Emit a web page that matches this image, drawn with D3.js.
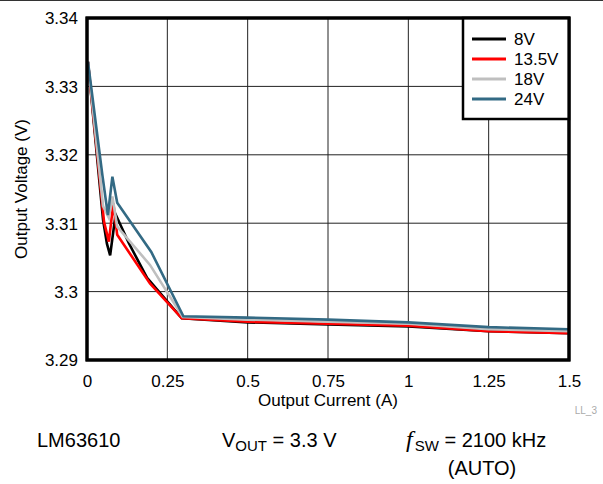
<!DOCTYPE html>
<html><head><meta charset="utf-8">
<script src="https://cdn.jsdelivr.net/npm/d3@7"></script>
<style>
body{margin:0;background:#fff;}
svg{display:block;font-family:"Liberation Sans",Arial,sans-serif;}
</style></head>
<body>
<svg id="chart" width="603" height="484"></svg>
<script>
// ---- data ----
const seriesNames = ["8V", "13.5V", "18V", "24V"];
const seriesColors = ["#000000", "#ff0000", "#bfbfbf", "#336a84"];

const current8V   = [0.003, 0.05, 0.062, 0.072, 0.089, 0.13, 0.187, 0.295, 0.5, 0.75, 1.0, 1.25, 1.5];
const vout8V      = [3.3336, 3.3105, 3.3070, 3.3053, 3.3113, 3.3071, 3.3020, 3.2961, 3.2955, 3.2952, 3.2949, 3.2942, 3.2939];

const current13V5 = [0.003, 0.053, 0.068, 0.082, 0.094, 0.196, 0.295, 0.5, 0.75, 1.0, 1.25, 1.5];
const vout13V5    = [3.3336, 3.3102, 3.3073, 3.3129, 3.3083, 3.3012, 3.2961, 3.2956, 3.2953, 3.2950, 3.2942, 3.2939];

const current18V  = [0.003, 0.05, 0.068, 0.079, 0.094, 0.196, 0.298, 0.5, 0.75, 1.0, 1.25, 1.5];
const vout18V     = [3.3336, 3.3125, 3.3108, 3.3139, 3.3095, 3.3039, 3.2963, 3.2959, 3.2956, 3.2953, 3.2945, 3.2942];

const current24V  = [0.003, 0.048, 0.065, 0.079, 0.094, 0.2, 0.3, 0.5, 0.75, 1.0, 1.25, 1.5];
const vout24V     = [3.3336, 3.3170, 3.3112, 3.3168, 3.3130, 3.3058, 3.2964, 3.2962, 3.2959, 3.2955, 3.2948, 3.2945];

const xTicks = [0, 0.25, 0.5, 0.75, 1, 1.25, 1.5];
const xTickLabels = ["0", "0.25", "0.5", "0.75", "1", "1.25", "1.5"];
const yTicks = [3.29, 3.30, 3.31, 3.32, 3.33, 3.34];
const yTickLabels = ["3.29", "3.3", "3.31", "3.32", "3.33", "3.34"];

const xTitle = "Output Current (A)";
const yTitle = "Output Voltage (V)";

// ---- layout ----
const svg = d3.select("#chart");
const L = 87, R = 569, T = 18, B = 360;
const x = d3.scaleLinear().domain([0, 1.5]).range([L, R]);
const y = d3.scaleLinear().domain([3.29, 3.34]).range([B, T]);

// top rule
svg.append("line").attr("x1", 0).attr("x2", 603).attr("y1", 0.5).attr("y2", 0.5)
  .attr("stroke", "#333").attr("stroke-width", 1);

// grid
const g = svg.append("g");
g.selectAll(".vg").data(xTicks.slice(1, -1)).join("line")
  .attr("x1", d => x(d)).attr("x2", d => x(d)).attr("y1", T).attr("y2", B)
  .attr("stroke", "#222").attr("stroke-width", 1);
g.selectAll(".hg").data(yTicks.slice(1, -1)).join("line")
  .attr("y1", d => y(d)).attr("y2", d => y(d)).attr("x1", L).attr("x2", R)
  .attr("stroke", "#222").attr("stroke-width", 1);

// axes labels via d3 axes
const xAxis = d3.axisBottom(x).tickValues(xTicks).tickFormat((d, i) => xTickLabels[i]).tickSize(0).tickPadding(0);
const xa = svg.append("g").attr("transform", `translate(0,${B})`).call(xAxis);
xa.select(".domain").remove();
xa.selectAll("text").attr("font-size", 17).attr("font-family", "Liberation Sans, Arial, sans-serif")
  .attr("fill", "#000").attr("dy", null).attr("y", 26.5);

const yAxis = d3.axisLeft(y).tickValues(yTicks).tickFormat((d, i) => yTickLabels[i]).tickSize(0).tickPadding(0);
const ya = svg.append("g").attr("transform", `translate(${L - 9},0)`).call(yAxis);
ya.select(".domain").remove();
ya.selectAll("text").attr("font-size", 17).attr("font-family", "Liberation Sans, Arial, sans-serif")
  .attr("fill", "#000").attr("dy", "0.35em").attr("x", 0);

svg.append("text").attr("x", (L + R) / 2).attr("y", 406).attr("text-anchor", "middle")
  .attr("font-size", 17).text(xTitle);
svg.append("text").attr("transform", `translate(27,${(T + B) / 2}) rotate(-90)`)
  .attr("text-anchor", "middle").attr("font-size", 17).text(yTitle);

// lines
const seriesData = [
  d3.zip(current8V, vout8V),
  d3.zip(current13V5, vout13V5),
  d3.zip(current18V, vout18V),
  d3.zip(current24V, vout24V)
];
const line = d3.line().x(d => x(d[0])).y(d => y(d[1]));
svg.append("g").selectAll("path").data(seriesData).join("path")
  .attr("d", line).attr("fill", "none")
  .attr("stroke", (d, i) => seriesColors[i]).attr("stroke-width", 2.6)
  .attr("stroke-linejoin", "miter");

// frame
svg.append("rect").attr("x", L).attr("y", T).attr("width", R - L).attr("height", B - T)
  .attr("fill", "none").attr("stroke", "#000").attr("stroke-width", 3);

// legend
const lg = svg.append("g");
lg.append("rect").attr("x", 463).attr("y", T).attr("width", R - 463).attr("height", 101)
  .attr("fill", "#fff").attr("stroke", "#000").attr("stroke-width", 2.5);
seriesNames.forEach((n, i) => {
  const yy = 39 + i * 20;
  lg.append("line").attr("x1", 472).attr("x2", 506).attr("y1", yy).attr("y2", yy)
    .attr("stroke", seriesColors[i]).attr("stroke-width", 3);
  lg.append("text").attr("x", 514).attr("y", yy + 6).attr("font-size", 17).text(n);
});
svg.append("rect").attr("x", L).attr("y", T).attr("width", R - L).attr("height", B - T)
  .attr("fill", "none").attr("stroke", "#000").attr("stroke-width", 3);

// small id
svg.append("text").attr("x", 597).attr("y", 414).attr("text-anchor", "end")
  .attr("font-size", 10).attr("fill", "#aaa").text("LL_3");

// footer
svg.append("text").attr("x", 37).attr("y", 447).attr("font-size", 20).text("LM63610");
const vt = svg.append("text").attr("x", 222).attr("y", 447).attr("font-size", 20);
vt.append("tspan").text("V");
vt.append("tspan").attr("font-size", 15).attr("dy", 4).text("OUT");
vt.append("tspan").attr("dy", -4).text(" = 3.3 V");
const ft = svg.append("text").attr("x", 406).attr("y", 447).attr("font-size", 20);
ft.append("tspan").attr("font-family", "Liberation Serif, serif").attr("font-style", "italic").attr("font-size", 24).text("f");
ft.append("tspan").attr("font-size", 15).attr("dy", 4).attr("dx", 2).text("SW");
ft.append("tspan").attr("dy", -4).text(" = 2100 kHz");
svg.append("text").attr("x", 482).attr("y", 475).attr("text-anchor", "middle").attr("font-size", 20).text("(AUTO)");
</script>
</body></html>
